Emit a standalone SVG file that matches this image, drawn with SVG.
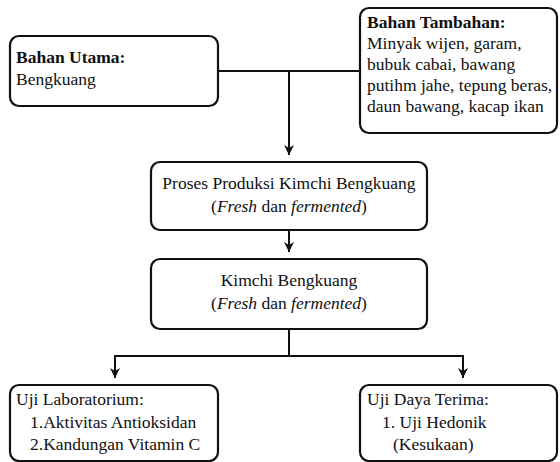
<svg xmlns="http://www.w3.org/2000/svg" width="560" height="462" viewBox="0 0 560 462">
<style>
.box{fill:#fff;stroke:#111;stroke-width:2.2}
.ln{fill:none;stroke:#111;stroke-width:2}
text{font-family:"Liberation Serif","Times New Roman",serif;font-size:17.5px;fill:#111}
.b{font-weight:bold}
.c{text-anchor:middle}
</style>
<defs>
<marker id="ah" viewBox="0 0 10 10" refX="10" refY="5" markerWidth="5" markerHeight="5" orient="auto" markerUnits="strokeWidth">
<path d="M0,0 L10,5 L0,10 L3,5 z" fill="#111"/>
</marker>
</defs>
<rect width="560" height="462" fill="#fff"/>
<g id="connectors">
<path class="ln" d="M218,71 H360"/>
<path class="ln" d="M289,71 V155" marker-end="url(#ah)"/>
<path class="ln" d="M289,230 V252" marker-end="url(#ah)"/>
<path class="ln" d="M289,329 V356"/>
<path class="ln" d="M115,356 H463"/>
<path class="ln" d="M115,355 V378" marker-end="url(#ah)"/>
<path class="ln" d="M463,355 V378" marker-end="url(#ah)"/>
</g>
<g id="bahan-utama">
<rect class="box" x="10" y="36" width="208" height="70" rx="9"/>
<text x="16" y="63" class="b">Bahan Utama:</text>
<text x="16" y="85">Bengkuang</text>
</g>
<g id="bahan-tambahan">
<rect class="box" x="360" y="8" width="197" height="125" rx="9"/>
<text x="367" y="28" class="b">Bahan Tambahan:</text>
<text x="367" y="49">Minyak wijen, garam,</text>
<text x="367" y="70">bubuk cabai, bawang</text>
<text x="367" y="91">putihm jahe, tepung beras,</text>
<text x="367" y="112">daun bawang, kacap ikan</text>
</g>
<g id="proses">
<rect class="box" x="151" y="162" width="276" height="68" rx="9"/>
<text x="289" y="189" class="c">Proses Produksi Kimchi Bengkuang</text>
<text x="289" y="212" class="c">(<tspan font-style="italic">Fresh</tspan> dan <tspan font-style="italic">fermented</tspan>)</text>
</g>
<g id="kimchi">
<rect class="box" x="151" y="259" width="276" height="70" rx="9"/>
<text x="289" y="286" class="c">Kimchi Bengkuang</text>
<text x="289" y="309" class="c">(<tspan font-style="italic">Fresh</tspan> dan <tspan font-style="italic">fermented</tspan>)</text>
</g>
<g id="uji-lab">
<rect class="box" x="10" y="385" width="208" height="76" rx="9"/>
<text x="16" y="405">Uji Laboratorium:</text>
<text x="30" y="428">1.Aktivitas Antioksidan</text>
<text x="30" y="450">2.Kandungan Vitamin C</text>
</g>
<g id="uji-daya">
<rect class="box" x="360" y="385" width="197" height="76" rx="9"/>
<text x="367" y="405">Uji Daya Terima:</text>
<text x="382" y="428">1. Uji Hedonik</text>
<text x="393" y="450">(Kesukaan)</text>
</g>
</svg>
